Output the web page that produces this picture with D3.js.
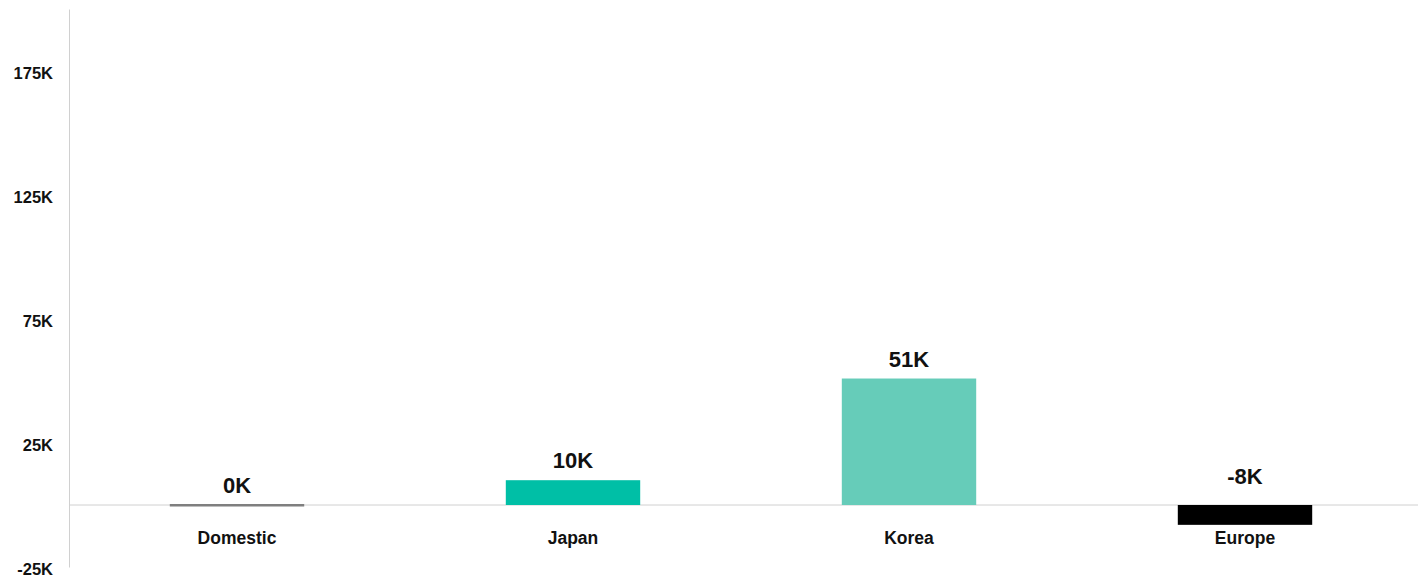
<!DOCTYPE html>
<html>
<head>
<meta charset="utf-8">
<script src="https://cdn.jsdelivr.net/npm/d3@7"></script>
<style>
  html, body { margin: 0; padding: 0; background: #fff; }
  text { font-family: "Liberation Sans", Arial, sans-serif; font-weight: bold; fill: #111; }
</style>
</head>
<body>
<svg id="chart"></svg>
<script>
const categories = ["Domestic", "Japan", "Korea", "Europe"];
const values = [0, 10000, 51000, -8000];
const labels = ["0K", "10K", "51K", "-8K"];
const colors = ["#7f7f7f", "#00bfa6", "#66ccb9", "#000000"];
const tickValues = [-25000, 25000, 75000, 125000, 175000];

const width = 1418, height = 579;
const left = 69, right = 1413;

const svg = d3.select("#chart").attr("width", width).attr("height", height);

const x = d3.scaleBand().domain(categories).range([left, right])
    .paddingInner(0.6).paddingOuter(0.3);
const y = d3.scaleLinear().domain([-25000, 200000]).range([567, 9]);

// y axis
const yAxis = d3.axisLeft(y)
    .tickValues(tickValues)
    .tickSize(0)
    .tickPadding(16)
    .tickFormat(d => (d / 1000) + "K");

const ga = svg.append("g")
    .attr("transform", "translate(" + left + ",0)")
    .call(yAxis);
ga.select(".domain").attr("stroke", "#d0d0d0");
ga.selectAll("text")
    .attr("font-size", 16.5)
    .attr("dy", "0.45em")
    .style("font-family", "\"Liberation Sans\", Arial, sans-serif")
    .style("font-weight", "bold")
    .attr("fill", "#111");

// zero line
svg.append("line")
    .attr("x1", left).attr("x2", width)
    .attr("y1", y(0)).attr("y2", y(0))
    .attr("stroke", "#d0d0d0");

const data = categories.map((c, i) => ({ c: c, v: values[i], label: labels[i], color: colors[i] }));

// bars
svg.selectAll(".bar")
    .data(data)
    .enter().append("rect")
    .attr("class", "bar")
    .attr("x", d => x(d.c))
    .attr("width", x.bandwidth())
    .attr("y", d => d.v === 0 ? y(0) - 1 : Math.min(y(d.v), y(0)))
    .attr("height", d => d.v === 0 ? 2.5 : Math.abs(y(d.v) - y(0)))
    .attr("fill", d => d.color);

// value labels
svg.selectAll(".val")
    .data(data)
    .enter().append("text")
    .attr("class", "val")
    .attr("x", d => x(d.c) + x.bandwidth() / 2)
    .attr("y", d => d.v >= 0 ? y(d.v) - 12 : y(0) - 21)
    .attr("text-anchor", "middle")
    .attr("font-size", 22)
    .text(d => d.label);

// category labels
svg.selectAll(".cat")
    .data(data)
    .enter().append("text")
    .attr("class", "cat")
    .attr("x", d => x(d.c) + x.bandwidth() / 2)
    .attr("y", 544)
    .attr("text-anchor", "middle")
    .attr("font-size", 17.5)
    .text(d => d.c);
</script>
</body>
</html>
